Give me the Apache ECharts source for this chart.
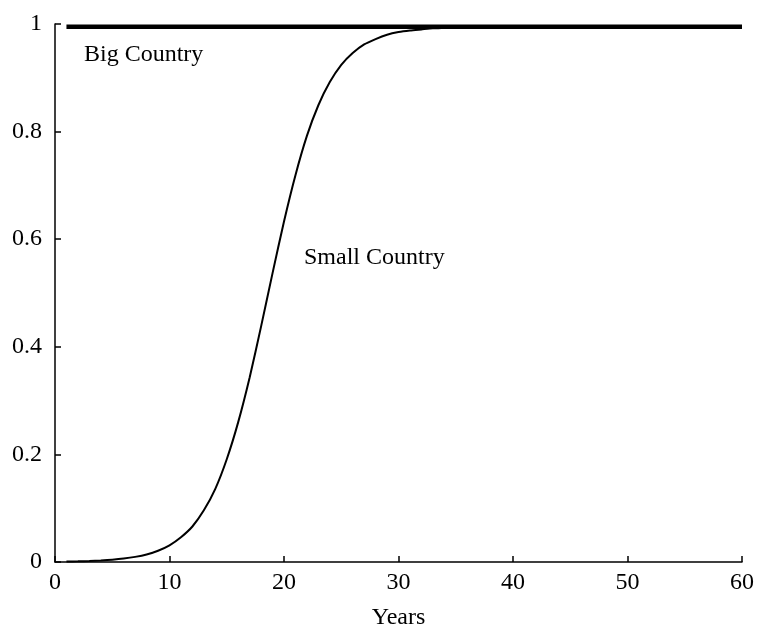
<!DOCTYPE html>
<html>
<head>
<meta charset="utf-8">
<script src="https://cdn.jsdelivr.net/npm/echarts@6/dist/echarts.min.js"></script>
<style>
html,body{margin:0;padding:0;background:#fff;}
#chart{width:757px;height:635px;}
</style>
</head>
<body>
<div id="chart"></div>
<script>
// Years (x values) for the sampled points
var years = [1,2,3,4,5,6,7,8,9,10,11,12,13,14,15,16,17,18,19,20,21,22,23,24,25,26,27,28,29,30,31,32,33,34,35,36,37,38,39,40,41,42,43,44,45,46,47,48,49,50,51,52,53,54,55,56,57,58,59,60];
// Small Country share
var smallCountry = [0.0009,0.0013,0.0019,0.0029,0.0043,0.0064,0.0095,0.014,0.021,0.031,0.046,0.066,0.096,0.136,0.191,0.26,0.343,0.438,0.537,0.633,0.719,0.792,0.849,0.892,0.924,0.946,0.962,0.972,0.98,0.985,0.988,0.99,0.992,0.993,0.994,0.994,0.995,0.995,0.995,0.995,0.995,0.995,0.995,0.995,0.995,0.995,0.995,0.995,0.995,0.995,0.995,0.995,0.995,0.995,0.995,0.995,0.995,0.995,0.995,0.995];
// Big Country share (flat)
var bigYears = [1, 60];
var bigCountry = [0.995, 0.995];
var xTicks = [0,10,20,30,40,50,60];
var yTicks = [0,0.2,0.4,0.6,0.8,1];
var labels = {big: 'Big Country', small: 'Small Country', xName: 'Years'};

function pairs(xs, ys){ return xs.map(function(x,i){ return [x, ys[i]]; }); }

var font = 'Liberation Serif, Times New Roman, serif';
var chart = echarts.init(document.getElementById('chart'));
chart.setOption({
  animation: false,
  backgroundColor: '#fff',
  grid: {left: 55, right: 14, top: 24, bottom: 68, containLabel: false},
  xAxis: {
    type: 'value', min: xTicks[0], max: xTicks[xTicks.length-1], interval: 10,
    name: labels.xName, nameLocation: 'middle', nameGap: 44,
    nameTextStyle: {fontFamily: font, fontSize: 24, color: '#000'},
    axisLine: {show: true, lineStyle: {color: '#000', width: 1.5}},
    axisTick: {show: true, inside: true, length: 6, lineStyle: {color: '#000', width: 1.5}},
    axisLabel: {fontFamily: font, fontSize: 24, color: '#000', margin: 9},
    splitLine: {show: false}
  },
  yAxis: {
    type: 'value', min: yTicks[0], max: yTicks[yTicks.length-1], interval: 0.2,
    axisLine: {show: true, lineStyle: {color: '#000', width: 1.5}},
    axisTick: {show: true, inside: true, length: 6, lineStyle: {color: '#000', width: 1.5}},
    axisLabel: {fontFamily: font, fontSize: 24, color: '#000', margin: 13},
    splitLine: {show: false}
  },
  series: [
    {
      name: labels.small, type: 'line', data: pairs(years, smallCountry),
      showSymbol: false, smooth: 0.2, z: 2,
      lineStyle: {color: '#000', width: 2}
    },
    {
      name: labels.big, type: 'line', data: pairs(bigYears, bigCountry),
      showSymbol: false, z: 3,
      lineStyle: {color: '#000', width: 4.5}
    }
  ],
  graphic: [
    {type: 'text', left: 84, top: 43, style: {text: labels.big, font: '24px ' + font, fill: '#000'}},
    {type: 'text', left: 304, top: 246, style: {text: labels.small, font: '24px ' + font, fill: '#000'}}
  ]
});
</script>
</body>
</html>
